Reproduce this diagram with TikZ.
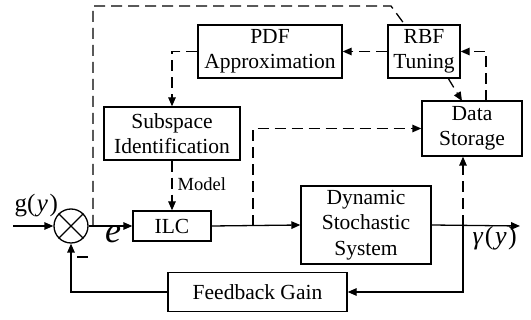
\documentclass[tikz,border=0pt]{standalone}
\usepackage{fontspec}
\setmainfont{Liberation Serif}
\usetikzlibrary{arrows.meta,calc}
\begin{document}
\begin{tikzpicture}[x=1pt,y=-1pt,
  line width=1.3pt,
  >={Triangle[length=9pt,width=7.5pt]},
  blk/.style={draw,line width=1.3pt,align=center,inner sep=0pt,
    font=\fontsize{21.5}{25.5}\selectfont},
  dsh/.style={dash pattern=on 11pt off 6pt},
  lbl/.style={inner sep=0pt}]
\useasboundingbox (0,0) rectangle (531,320);
% blocks
\node[blk,minimum width=144pt,minimum height=53pt] (pdf) at (270,51.5) {PDF\\Approximation};
\node[blk,minimum width=72pt,minimum height=53pt] (rbf) at (424,51.5) {RBF\\Tuning};
\node[blk,minimum width=100pt,minimum height=55pt] (ds) at (472,128.5) {Data\\Storage};
\node[blk,minimum width=136pt,minimum height=53pt] (sub) at (172,133.5) {Subspace\\Identification};
\node[blk,minimum width=78pt,minimum height=30pt] (ilc) at (172,226) {ILC};
\node[blk,minimum width=130pt,minimum height=78pt] (dss) at (366,225) {Dynamic\\Stochastic\\System};
\node[blk,minimum width=179pt,minimum height=39pt] (fg) at (257.5,292) {Feedback Gain};
\node[draw,circle,minimum size=34pt,inner sep=0pt,line width=1.3pt] (s) at (71,226) {};
\draw (s.45) -- (s.225) (s.135) -- (s.315);
% coordinates
\coordinate (in) at (13,226);
\coordinate (out) at (520,226);
\coordinate (tap) at (463,226);
\coordinate (fbc) at (463,292);
\coordinate (t1) at (93,226);
\coordinate (t2) at (93,6);
\coordinate (t3) at (391,6);
\coordinate (t4) at (405,25);
\coordinate (t5) at (253,226);
\coordinate (d1) at (486,101);
\coordinate (r1) at (448,78);
\coordinate (d2) at (462,101);
% solid connectors
\draw[->] (in) -- (s.west);
\draw[->] (s.east) -- (ilc.west);
\draw[->] (ilc.east) -- (dss.west);
\draw[->] (dss.east) -- (out);
\draw[->] (tap) -- (fbc) -- (fg.east);
\draw[->] (fg.west) -| (s.south);
% dashed connectors
\draw[dsh,->] (tap) -- (tap |- ds.south);
\draw[dsh] (t1) -- (t2) -- (t3) -- (t4);
\draw[dsh,->] (t5) |- (ds.west);
\draw[dsh,->] (d1) |- (rbf.east);
\draw[dsh,->] (r1) -- (d2);
\draw[dsh,->] (rbf.west) -- (pdf.east);
\draw[dsh,->] (pdf.west) -| (sub.north);
\draw[dsh,->] (sub.south) -- (ilc.north);
% labels
\node[lbl,anchor=west,font=\fontsize{18.5}{20}\selectfont] (mdl) at (177,184) {Model};
\node[lbl,anchor=base west,font=\fontsize{25}{27}\selectfont] (gy) at (14,212) {g(\kern1.5pt\textit{y}\kern1.5pt)};
\node[lbl,font=\fontsize{36}{38}\selectfont\itshape] (e) at (113,234) {e};
\node[lbl,font=\fontsize{22}{24}\selectfont] (mn) at (82.5,257) {\rule{11pt}{1.8pt}};
\node[lbl,anchor=west,font=\fontsize{26}{28}\selectfont] (gam) at (472,238) {\textit{γ}\kern1.5pt(\kern1.5pt\textit{y}\kern1.5pt)};
\end{tikzpicture}
\end{document}
